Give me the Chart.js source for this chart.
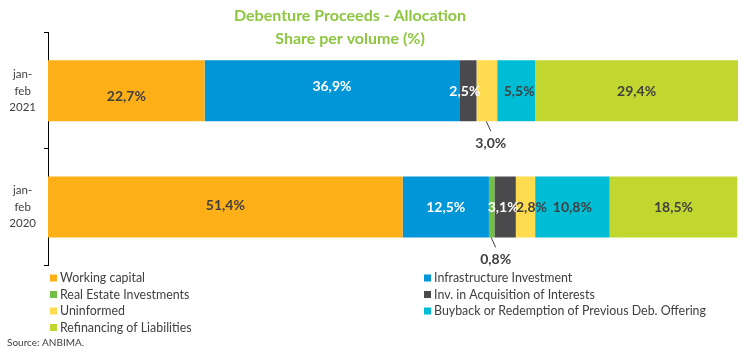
<!DOCTYPE html>
<html>
<head>
<meta charset="utf-8">
<script src="https://cdn.jsdelivr.net/npm/chart.js@4"></script>
<style>
  html, body { margin: 0; padding: 0; background: #fff; }
  canvas { display: block; }
</style>
</head>
<body>
<canvas id="c" width="750" height="355"></canvas>
<script>
// ---- data ----
const categories = [['jan-', 'feb', '2021'], ['jan-', 'feb', '2020']];
const seriesNames = [
  'Working capital',
  'Infrastructure Investment',
  'Real Estate Investments',
  'Inv. in Acquisition of Interests',
  'Uninformed',
  'Buyback or Redemption of Previous Deb. Offering',
  'Refinancing of Liabilities'
];
const workingCapital = [22.7, 51.4];
const infrastructure = [36.9, 12.5];
const realEstate = [0, 0.8];
const acquisition = [2.5, 3.1];
const uninformed = [3.0, 2.8];
const buyback = [5.5, 10.8];
const refinancing = [29.4, 18.5];
const titleLines = ['Debenture Proceeds - Allocation', 'Share per volume (%)'];
const sourceText = 'Source: ANBIMA.';

// ---- styles ----
const colors = ['#FCAF17', '#0096D8', '#72BF44', '#4A4A4C', '#FFDB4F', '#00BDD6', '#C1D72F'];
const labelColors = ['#3F3F3F', '#FFFFFF', '#3F3F3F', '#FFFFFF', '#3F3F3F', '#3F3F3F', '#3F3F3F'];
const seriesValues = [workingCapital, infrastructure, realEstate, acquisition, uninformed, buyback, refinancing];

const datasets = seriesNames.map((name, i) => ({
  label: name,
  data: seriesValues[i],
  backgroundColor: colors[i],
  borderWidth: 0,
  categoryPercentage: 1,
  barPercentage: 0.525
}));

// label placement tweaks: key "dataset-index"
const labelOffsets = {
  '0-0': [0, 6], '1-0': [0, -4], '3-0': [-3, 1], '5-0': [3, 1], '6-0': [0, 1],
  '0-1': [0, -1.5], '1-1': [0, 0.5], '3-1': [-2, 0.5], '4-1': [6, 0.5], '5-1': [0, 0.5], '6-1': [0, 0.5]
};
const outsideLabels = { '4-0': true, '2-1': true };

const fmt = v => v.toFixed(1).replace('.', ',') + '%';

const labelsPlugin = {
  id: 'customLabels',
  afterDatasetsDraw(chart) {
    const ctx = chart.ctx;
    ctx.save();
    ctx.font = 'bold 14px Lato';
    ctx.textAlign = 'center';
    ctx.textBaseline = 'middle';
    chart.data.datasets.forEach((ds, di) => {
      const meta = chart.getDatasetMeta(di);
      meta.data.forEach((el, i) => {
        const v = ds.data[i];
        if (!v) return;
        const key = di + '-' + i;
        const cx = (el.x + el.base) / 2;
        if (outsideLabels[key]) {
          const bottom = el.y + el.height / 2;
          ctx.strokeStyle = '#404040';
          ctx.lineWidth = 1;
          ctx.beginPath();
          ctx.moveTo(cx - 0.5, bottom);
          ctx.lineTo(cx + 4, bottom + 10);
          ctx.stroke();
          ctx.fillStyle = '#3F3F3F';
          ctx.fillText(fmt(v), cx + 4, bottom + 22);
        } else {
          const off = labelOffsets[key] || [0, 0];
          ctx.fillStyle = labelColors[di];
          ctx.fillText(fmt(v), cx + off[0], el.y + off[1]);
        }
      });
    });
    ctx.restore();
  },
  afterDraw(chart) {
    const ctx = chart.ctx;
    ctx.save();
    // title
    ctx.fillStyle = '#8DC63F';
    ctx.font = 'bold 16px Lato';
    ctx.textAlign = 'center';
    ctx.textBaseline = 'middle';
    ctx.fillText(titleLines[0], 350, 16);
    ctx.fillText(titleLines[1], 350, 39);
    // legend
    const colX = [50, 424];
    const rowY = [278, 294.5, 311, 327.5];
    ctx.font = '12.4px Lato';
    ctx.textAlign = 'left';
    chart.data.datasets.forEach((ds, i) => {
      const x = colX[i % 2];
      const y = rowY[Math.floor(i / 2)];
      ctx.fillStyle = ds.backgroundColor;
      ctx.fillRect(x, y - 3.5, 7, 7);
      ctx.fillStyle = '#404040';
      ctx.fillText(ds.label, x + 10, y);
    });
    // source
    ctx.font = '10px Lato';
    ctx.fillStyle = '#404040';
    ctx.fillText(sourceText, 7, 343);
    ctx.restore();
  }
};

new Chart(document.getElementById('c'), {
  type: 'bar',
  data: { labels: categories, datasets },
  options: {
    indexAxis: 'y',
    responsive: false,
    animation: false,
    devicePixelRatio: 1,
    layout: { padding: { top: 32, right: 12, bottom: 90, left: 0 } },
    plugins: { legend: { display: false }, title: { display: false }, tooltip: { enabled: false } },
    scales: {
      x: { display: false, stacked: true, min: 0, max: 100 },
      y: {
        stacked: true,
        afterFit(scale) { scale.width = 48; },
        grid: { display: true, drawOnChartArea: false, drawTicks: true, tickLength: 4, color: '#000', offset: true },
        border: { display: true, color: '#000', width: 1 },
        ticks: {
          crossAlign: 'center',
          padding: 8,
          color: '#404040',
          font: { family: 'Lato', size: 11.5, lineHeight: '16.5px' }
        }
      }
    }
  },
  plugins: [labelsPlugin]
});
</script>
</body>
</html>
